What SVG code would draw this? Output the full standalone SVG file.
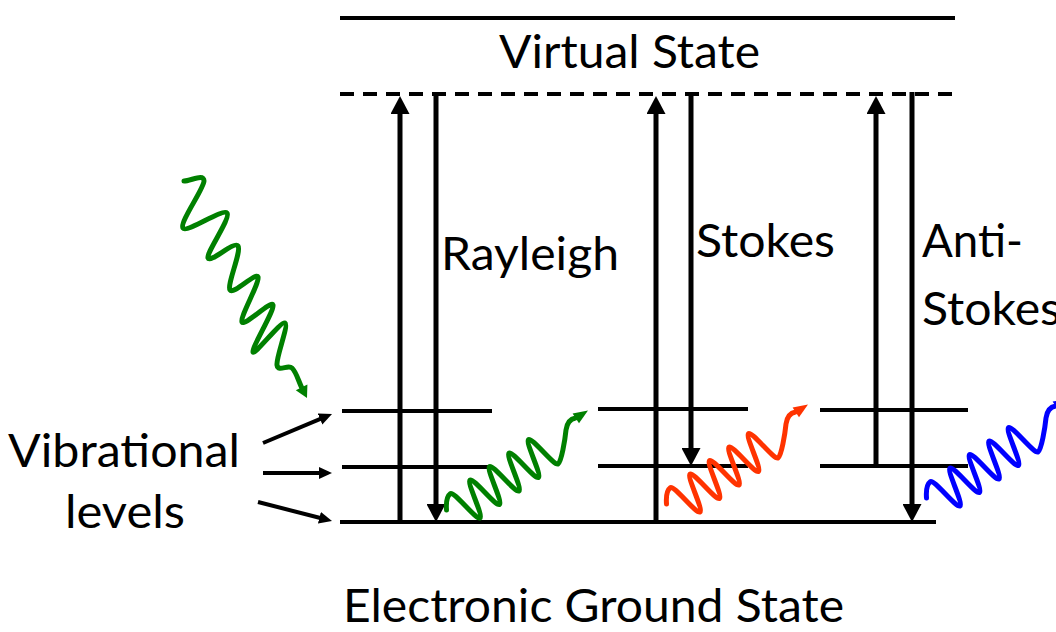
<svg xmlns="http://www.w3.org/2000/svg" width="1056" height="632" viewBox="0 0 1056 632">
<defs>
<style>
.ln{stroke:#000;stroke-width:4;fill:none}
.dash{stroke-dasharray:14 9}
.tr{stroke:#000;stroke-width:5;fill:none}
.vib{stroke:#000;stroke-width:4;fill:none}
.tx{font-family:Lato,"Liberation Sans",sans-serif;font-size:46px;fill:#000}
.wave{fill:none;stroke-width:5;stroke-linecap:round;stroke-linejoin:round}
</style>
<marker id="ah" markerUnits="userSpaceOnUse" viewBox="0 0 18 19" markerWidth="18" markerHeight="19" refX="4" refY="9.5" orient="auto"><path d="M0,0L18,9.5L0,19z" fill="#000"/></marker>
<marker id="ahs" markerUnits="userSpaceOnUse" viewBox="0 0 13 12" markerWidth="13" markerHeight="12" refX="3" refY="6" orient="auto"><path d="M0,0L13,6L0,12z" fill="#000"/></marker>
<g id="photon-out">
<path class="wave" d="M446.5,510 C446,503 447,496 450.5,493.5 C454,491.05 476.5,520.45 480,518 C483.5,515.55 466.5,482.45 470,480 C473.5,477.55 496,506.95 499.5,504.5 C503,502.05 486,468.95 489.5,466.5 C493,464.05 515.5,493.45 519,491 C522.5,488.55 505.5,455.45 509,453 C512.5,450.55 535,479.95 538.5,477.5 C542,475.05 525,441.95 528.5,439.5 C532,437.05 554.5,466.45 558,464 C561.5,461.55 565,440 566,430 C567,423 570,419 575.5,418"/>
<path d="M588,410.5L572.6,413.6L579,423.3z" stroke="none"/>
</g>
</defs>
<rect width="1056" height="632" fill="#fff"/>

<g id="virtual-state">
<line class="ln" x1="340" y1="18" x2="955" y2="18"/>
<text class="tx" x="499" y="68" textLength="261" lengthAdjust="spacingAndGlyphs">Virtual State</text>
<line class="ln dash" x1="340" y1="94" x2="955" y2="94"/>
</g>

<g id="ground-state">
<line class="ln" x1="340" y1="522" x2="936" y2="522"/>
<text class="tx" x="343" y="622" textLength="501" lengthAdjust="spacingAndGlyphs">Electronic Ground State</text>
</g>

<g id="levels-rayleigh">
<line class="ln" x1="342" y1="411" x2="492" y2="411"/>
<line class="ln" x1="342" y1="467" x2="492" y2="467"/>
</g>
<g id="levels-stokes">
<line class="ln" x1="598" y1="409" x2="748" y2="409"/>
<line class="ln" x1="598" y1="466" x2="748" y2="466"/>
</g>
<g id="levels-antistokes">
<line class="ln" x1="820" y1="410" x2="968" y2="410"/>
<line class="ln" x1="820" y1="466" x2="968" y2="466"/>
</g>

<g id="label-rayleigh"><text class="tx" x="441" y="270" textLength="178" lengthAdjust="spacingAndGlyphs">Rayleigh</text></g>
<g id="label-stokes"><text class="tx" x="696" y="257" textLength="139" lengthAdjust="spacingAndGlyphs">Stokes</text></g>
<g id="label-antistokes">
<text class="tx" x="922" y="257" textLength="101" lengthAdjust="spacingAndGlyphs">Anti-</text>
<text class="tx" x="922" y="325" textLength="139" lengthAdjust="spacingAndGlyphs">Stokes</text>
</g>
<g id="label-vibrational">
<text class="tx" x="8" y="467" textLength="232" lengthAdjust="spacingAndGlyphs">Vibrational</text>
<text class="tx" x="65" y="528" textLength="120" lengthAdjust="spacingAndGlyphs">levels</text>
</g>

<g id="connectors">
<line class="tr" x1="400" y1="524" x2="400" y2="110" marker-end="url(#ah)"/>
<line class="tr" x1="436" y1="92" x2="436" y2="508" marker-end="url(#ah)"/>
<line class="tr" x1="656" y1="524" x2="656" y2="110" marker-end="url(#ah)"/>
<line class="tr" x1="691" y1="92" x2="691" y2="452" marker-end="url(#ah)"/>
<line class="tr" x1="876" y1="468" x2="876" y2="110" marker-end="url(#ah)"/>
<line class="tr" x1="912" y1="92" x2="912" y2="508" marker-end="url(#ah)"/>
<line class="vib" x1="263" y1="443" x2="322.8" y2="417.9" marker-end="url(#ahs)"/>
<line class="vib" x1="263" y1="473" x2="322" y2="473" marker-end="url(#ahs)"/>
<line class="vib" x1="258" y1="502" x2="322.3" y2="518.5" marker-end="url(#ahs)"/>
</g>

<g id="photons">
<g id="photon-in" stroke="#008000" fill="#008000">
<path class="wave" d="M184,181 C190.67,181 204.17,173.17 204,181 C203.83,188.83 179.17,222.67 183,228 C186.83,233.33 222.83,208 227,213 C231.17,218 206.17,252.5 208,258 C209.83,263.5 234.33,240.67 238,246 C241.67,251.33 226.67,284.83 230,290 C233.33,295.17 256,271.67 258,277 C260,282.33 239.5,317.33 242,322 C244.5,326.67 271.17,300 273,305 C274.83,310 251,349 253,352 C255,355 281,320.83 285,323 C289,325.17 275.830,357.5 277,365 C278.17,372.5 287.9,364.28 292,368 C296.1,371.72 298.4,380.87 301.6,387.3"/>
<path d="M307,398L307.4,384.4L295.8,390.2z" stroke="none"/>
</g>
<use id="photon-rayleigh" href="#photon-out" stroke="#008000" fill="#008000"/>
<use id="photon-stokes" href="#photon-out" transform="translate(220,-6)" stroke="#ff3300" fill="#ff3300"/>
<use id="photon-antistokes" href="#photon-out" transform="translate(480,-12)" stroke="#0000ff" fill="#0000ff"/>
</g>
</svg>
